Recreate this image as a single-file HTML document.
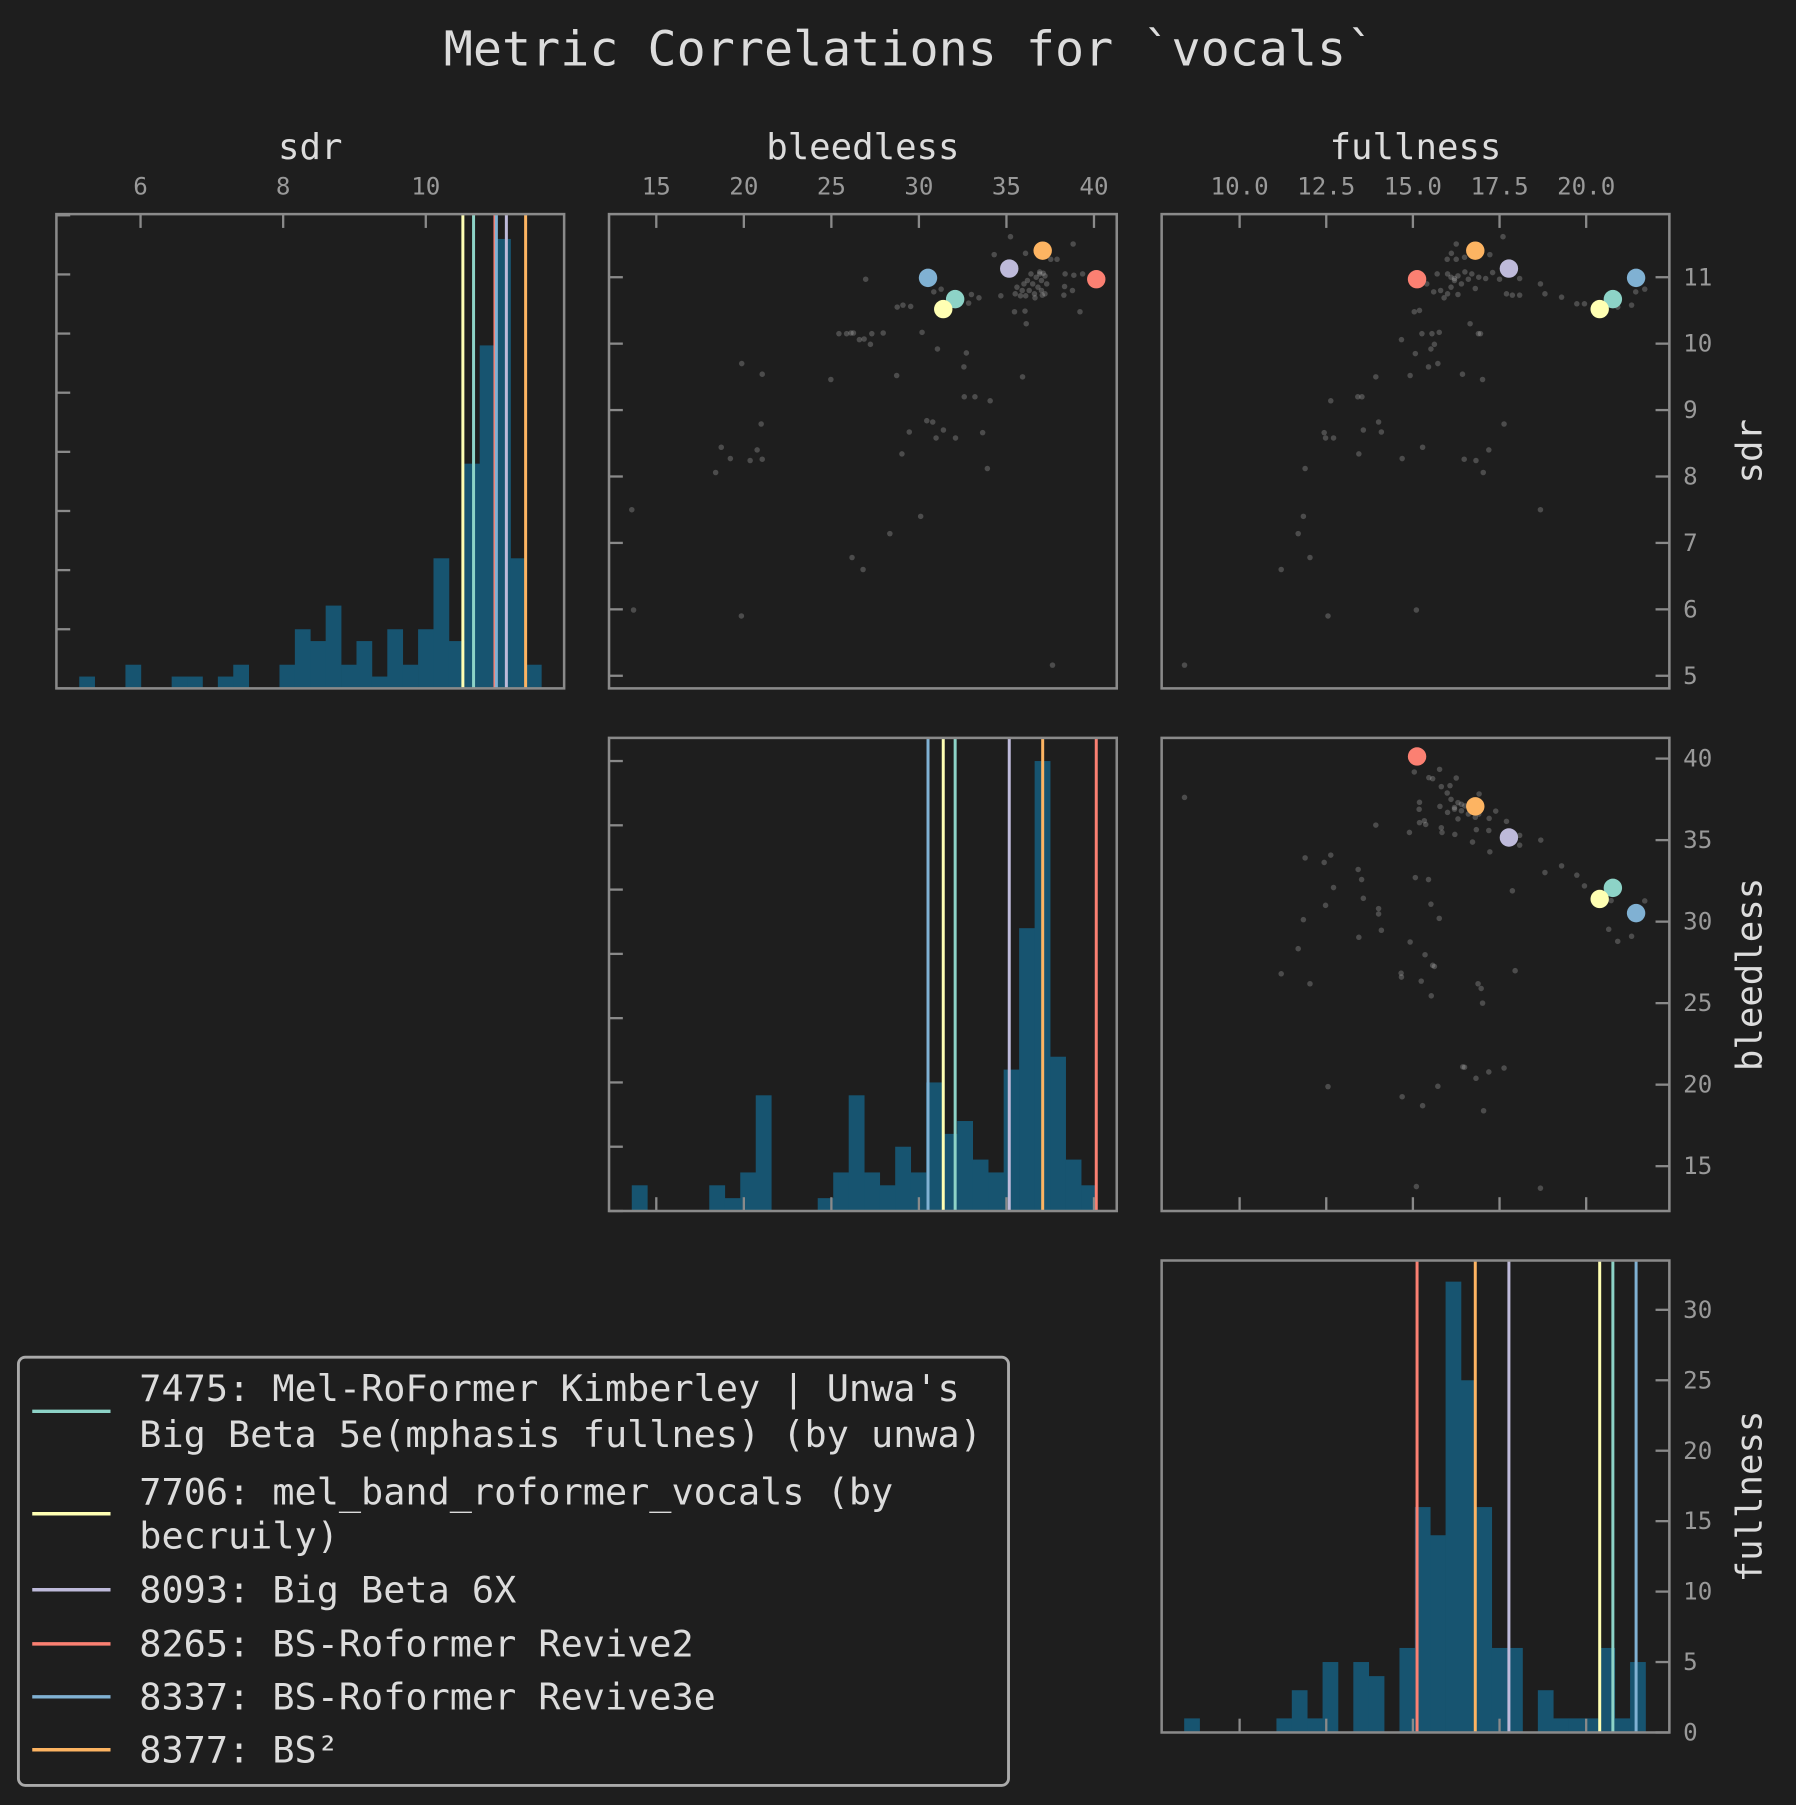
<!DOCTYPE html>
<html><head><meta charset="utf-8"><style>
html,body{margin:0;padding:0;background:#1e1e1e;}
svg{display:block;font-family:"DejaVu Sans Mono","Liberation Mono",monospace;}
</style></head><body>
<svg id="fig" width="1796" height="1805" viewBox="0 0 1560 1568" preserveAspectRatio="none" xmlns="http://www.w3.org/2000/svg">
<rect x="0" y="0" width="1560" height="1568" fill="#1e1e1e"/>
<text x="790" y="57" font-size="42" fill="#dcdcdc" text-anchor="middle">Metric Correlations for `vocals`</text>
<g id="plots"></g>
<g>
<rect x="16" y="1179" width="860" height="372" rx="6" fill="#1e1e1e" stroke="#aaaaaa" stroke-width="2.5"/>
<g font-size="32" fill="#dcdcdc">
<line x1="28" x2="96" y1="1226" y2="1226" stroke="#8dd3c7" stroke-width="3"/>
<text x="121" y="1217">7475: Mel-RoFormer Kimberley | Unwa's</text>
<text x="121" y="1257">Big Beta 5e(mphasis fullnes) (by unwa)</text>
<line x1="28" x2="96" y1="1315" y2="1315" stroke="#ffffb3" stroke-width="3"/>
<text x="121" y="1307">7706: mel_band_roformer_vocals (by</text>
<text x="121" y="1345">becruily)</text>
<line x1="28" x2="96" y1="1381" y2="1381" stroke="#bebada" stroke-width="3"/>
<text x="121" y="1392">8093: Big Beta 6X</text>
<line x1="28" x2="96" y1="1428" y2="1428" stroke="#fb8072" stroke-width="3"/>
<text x="121" y="1439">8265: BS-Roformer Revive2</text>
<line x1="28" x2="96" y1="1474" y2="1474" stroke="#80b1d3" stroke-width="3"/>
<text x="121" y="1485">8337: BS-Roformer Revive3e</text>
<line x1="28" x2="96" y1="1520" y2="1520" stroke="#fdb462" stroke-width="3"/>
<text x="121" y="1531">8377: BS²</text>
</g></g>
</svg>
<script>
// ---- data ----
const modelIds = ["7475","7706","8093","8265","8337","8377"];
const modelColors = ["#8dd3c7","#ffffb3","#bebada","#fb8072","#80b1d3","#fdb462"];
const modelSdr = [10.67,10.52,11.13,10.97,10.99,11.40];
const modelBleed = [32.07,31.39,35.16,40.13,30.52,37.07];
const modelFull = [20.77,20.39,17.77,15.12,21.44,16.80];

const sdrBinStart = 5.14, sdrBinWidth = 0.216;
const sdrCounts = [1,0,0,2,0,0,1,1,0,1,2,0,0,2,5,4,7,2,4,1,5,2,5,11,4,19,29,38,11,2];
const bleedBinStart = 13.6, bleedBinWidth = 0.885;
const bleedCounts = [2,0,0,0,0,2,1,3,9,0,0,0,1,3,9,3,2,5,3,10,6,7,4,3,11,22,35,12,4,2];
const fullBinStart = 8.40, fullBinWidth = 0.4437;
const fullCounts = [1,0,0,0,0,0,1,3,1,5,0,5,4,0,6,16,14,32,25,16,6,6,0,3,1,1,1,6,1,5];

const sdrTicks = [6,8,10];
const bleedTicks = [15,20,25,30,35,40];
const fullTicks = [10,12.5,15,17.5,20];
const fullTickLabels = ["10.0","12.5","15.0","17.5","20.0"];
const sdrYTicks = [5,6,7,8,9,10,11];
const bleedYTicks = [15,20,25,30,35,40];
const countTicks5 = [0,5,10,15,20,25,30,35,40];
const fullCountTicks = [0,5,10,15,20,25,30];

// [bleedless, sdr]
const bleedSdrPoints = [[35.23,11.61],[38.81,11.5],[34.3,11.34],[36.09,11.36],[37.89,11.27],[37.53,11.27],
[36.4,11.05],[36.7,11.0],[36.9,11.05],[37.0,10.95],[37.2,11.02],[36.5,10.9],[36.2,10.95],[36.8,10.85],[37.3,10.9],[36.0,10.9],[35.9,10.8],[36.3,10.8],[36.6,10.75],[35.8,10.72],[37.2,10.75],[37.0,10.8],[35.6,10.85],[35.5,10.75],[36.1,10.72],[36.9,11.08],[37.1,11.06],
[38.35,11.05],[38.85,11.03],[39.35,11.05],[38.32,10.86],[38.77,10.8],[38.28,10.73],[39.2,10.48],[37.05,10.73],[36.63,10.69],[35.46,10.48],[36.06,10.49],[36.13,10.3],[34.68,10.72],
[26.96,10.97],[30.85,10.78],[31.27,10.82],[33.0,10.74],[33.43,10.69],[32.84,10.61],[28.76,10.55],[29.09,10.58],[29.53,10.56],
[25.43,10.15],[25.87,10.15],[26.12,10.16],[26.26,10.16],[26.6,10.06],[26.87,10.07],[27.31,10.15],[27.23,9.99],[27.96,10.16],[30.18,10.17],[31.06,9.92],[32.71,9.86],[32.57,9.65],
[19.88,9.7],[21.05,9.54],[24.97,9.46],[28.73,9.52],[35.92,9.5],[32.59,9.2],[33.2,9.2],[34.07,9.14],[20.99,8.79],[30.45,8.84],[30.79,8.82],[31.4,8.7],[29.45,8.67],[30.98,8.58],[32.09,8.58],[33.64,8.66],[29.03,8.34],
[18.71,8.44],[19.23,8.27],[20.76,8.4],[20.36,8.24],[21.05,8.26],[18.39,8.06],[33.91,8.12],[13.6,7.5],[30.1,7.4],[28.34,7.14],[26.18,6.78],[26.81,6.6],[13.7,5.99],[19.86,5.9],[37.63,5.16]];

// [fullness, sdr]
const fullSdrPoints = [[17.6,11.61],[16.25,11.5],[16.11,11.36],[15.99,11.27],[16.25,11.27],[16.49,11.3],[17.22,11.34],
[15.4,10.9],[15.7,11.05],[16.0,11.05],[16.2,10.98],[16.5,11.08],[16.7,11.05],[16.9,11.0],[17.1,10.98],[17.3,11.07],[17.5,10.97],[16.1,10.85],[16.4,10.9],[15.8,10.8],[15.6,10.78],[16.0,10.75],[16.3,10.74],[16.8,10.83],[15.9,10.69],[16.2,10.95],[16.6,10.97],[16.1,11.0],[16.3,11.02],
[18.68,10.9],[18.81,10.75],[19.29,10.7],[19.73,10.6],[19.95,10.6],[17.7,10.75],[17.87,10.73],[18.08,10.73],[18.08,10.98],[20.91,10.55],[21.31,10.58],[21.43,10.78],[21.69,10.82],
[15.04,10.48],[15.19,10.5],[16.65,10.3],[14.67,10.06],[15.26,10.15],[15.55,10.15],[15.76,10.17],[16.89,10.15],[16.95,10.15],[15.07,9.85],[15.52,9.92],[15.62,9.99],[15.45,9.65],[15.72,9.7],
[13.93,9.5],[14.92,9.52],[16.43,9.54],[17.01,9.46],[12.63,9.14],[13.41,9.2],[13.53,9.2],[17.63,8.79],[14.01,8.82],[13.57,8.7],[14.09,8.67],[12.44,8.66],[12.48,8.58],[12.71,8.58],[15.28,8.44],[17.19,8.4],[13.44,8.34],[14.69,8.27],[16.48,8.26],[16.82,8.24],[17.03,8.06],[11.89,8.12],
[18.68,7.5],[11.84,7.4],[11.69,7.14],[12.03,6.78],[11.2,6.6],[15.1,5.99],[12.55,5.9],[8.41,5.16]];

// [fullness, bleedless]
const fullBleedPoints = [[15.04,39.18],[15.77,39.34],[15.46,38.83],[15.57,38.77],[16.25,38.81],[15.82,38.28],[16.07,38.34],[15.99,37.89],[16.91,37.83],[15.19,37.32],[15.18,36.89],[15.78,37.07],
[16.1,37.5],[16.3,37.3],[16.2,37.0],[16.4,36.8],[16.6,36.6],[16.0,36.7],[16.5,37.1],[16.8,36.4],[16.3,36.3],[16.9,36.6],[16.2,36.9],[16.4,37.2],
[17.39,36.78],[17.2,36.33],[17.7,36.15],[13.93,35.92],[15.19,36.07],[15.33,36.19],[15.37,35.96],[14.9,35.47],[15.82,35.76],[15.84,35.47],[16.21,35.35],[16.83,35.64],[17.19,35.59],[16.72,34.88],[18.08,35.29],[18.08,34.69],[18.69,35.0],[17.22,34.28],
[11.89,33.91],[12.63,34.08],[12.44,33.63],[13.42,33.2],[13.52,32.58],[15.07,32.7],[15.45,32.58],[18.81,33.01],[19.29,33.42],[19.73,32.85],[19.95,32.19],[17.87,31.89],[12.71,32.09],[13.57,31.43],[12.48,31.0],[15.52,31.07],[14.01,30.8],[14.01,30.47],[15.76,30.2],[11.84,30.12],[14.09,29.47],[13.44,29.04],
[20.72,31.29],[21.69,31.27],[20.65,29.53],[20.91,28.79],[21.31,29.1],[14.92,28.75],[11.69,28.34],[15.35,27.97],[15.57,27.32],[15.62,27.25],[17.95,26.99],[11.2,26.8],[14.66,26.84],[14.67,26.6],[15.24,26.35],[12.03,26.19],[16.88,26.19],[16.97,25.9],[15.53,25.45],[17.01,25.0],
[16.44,21.09],[16.49,21.07],[17.63,21.02],[17.19,20.78],[16.82,20.39],[15.72,19.9],[12.55,19.88],[14.69,19.26],[15.28,18.71],[17.04,18.4],[15.1,13.75],[18.68,13.65],[8.41,37.62]];

// ---- layout ----
const NS = "http://www.w3.org/2000/svg";
const root = document.getElementById("plots");
const colX = [[49,490],[529,970],[1009,1450]];
const rowY = [[186,598],[641,1052],[1095,1505]];
const xDom = {sdr:[4.82,11.94], bleed:[12.3,41.3], full:[7.75,22.4]};
const yDom = {sdr:[4.81,11.95], bleed:[12.25,41.27]};
const countMax = {sdr:40.1, bleed:36.8, full:33.5};
function lin(d0,d1,r0,r1){ return v => r0 + (v-d0)/(d1-d0)*(r1-r0); }
function mk(tag, attrs, parent){ const e=document.createElementNS(NS,tag); for(const k in attrs) e.setAttribute(k,attrs[k]); (parent||root).appendChild(e); return e; }
const metrics = ["sdr","bleed","full"];
const xs = metrics.map((m,i)=>lin(xDom[m][0],xDom[m][1],colX[i][0],colX[i][1]));
const ys = [lin(yDom.sdr[0],yDom.sdr[1],rowY[0][1],rowY[0][0]), lin(yDom.bleed[0],yDom.bleed[1],rowY[1][1],rowY[1][0])];
const modelVals = {sdr:modelSdr, bleed:modelBleed, full:modelFull};
const TK = 12, TC = "#8a8a8a";

function frame(c,r,name){
  const f = mk("rect",{x:colX[c][0],y:rowY[r][0],width:colX[c][1]-colX[c][0],height:rowY[r][1]-rowY[r][0],fill:"none",stroke:TC,"stroke-width":2.2});
  
  
}
function xTicks(c,r,ticks,labels,side,scale){
  ticks.forEach((t,i)=>{
    const x = scale(t);
    const yb = side==="top"?rowY[r][0]:rowY[r][1];
    const l = mk("line",{x1:x,x2:x,y1:yb,y2:side==="top"?yb+TK:yb-TK,stroke:TC,"stroke-width":2});
    
    
    if(labels){
      const tx = mk("text",{x:x,y:rowY[r][0]-17,"font-size":21,fill:"#999","text-anchor":"middle"});
      tx.textContent = labels[i];
      
      
    }
  });
}
function yTicks(c,r,ticks,labels,side,scale){
  ticks.forEach((t,i)=>{
    const y = scale(t);
    const xb = side==="left"?colX[c][0]:colX[c][1];
    const l = mk("line",{x1:xb,x2:side==="left"?xb+TK:xb-TK,y1:y,y2:y,stroke:TC,"stroke-width":2});
    
    
    if(labels){
      const tx = mk("text",{x:colX[c][1]+12,y:y+7,"font-size":21,fill:"#999"});
      tx.textContent = labels[i];
      
      
    }
  });
}
function hist(i,start,width,counts){
  const m = metrics[i];
  const cy = lin(0,countMax[m],rowY[i][1],rowY[i][0]);
  counts.forEach((n,k)=>{
    if(!n) return;
    const x0 = xs[i](start+k*width), x1 = xs[i](start+(k+1)*width);
    const b = mk("rect",{x:x0,y:cy(n),width:x1-x0+0.3,height:cy(0)-cy(n),fill:"#175470"});
    
    
  });
  modelVals[m].forEach((v,j)=>{
    const l = mk("line",{x1:xs[i](v),x2:xs[i](v),y1:rowY[i][0],y2:rowY[i][1],stroke:modelColors[j],"stroke-width":2.6});
    
    
  });
  return cy;
}
function scatter(c,r,pts,xv,yv){
  pts.forEach(p=>{
    const d = mk("circle",{cx:xs[c](p[0]),cy:ys[r](p[1]),r:2.4,fill:"#bbbbbb","fill-opacity":0.3});
    
    
  });
  xv.forEach((v,j)=>{
    const d = mk("circle",{cx:xs[c](v),cy:ys[r](yv[j]),r:8,fill:modelColors[j]});
    
    
  });
}

// diagonal histograms
const cs0 = hist(0,sdrBinStart,sdrBinWidth,sdrCounts);
const cs1 = hist(1,bleedBinStart,bleedBinWidth,bleedCounts);
const cs2 = hist(2,fullBinStart,fullBinWidth,fullCounts);
// scatters
scatter(1,0,bleedSdrPoints,modelBleed,modelSdr);
scatter(2,0,fullSdrPoints,modelFull,modelSdr);
scatter(2,1,fullBleedPoints,modelFull,modelBleed);

// frames and ticks
frame(0,0,"sdr-hist"); frame(1,0,"bleedless-sdr"); frame(2,0,"fullness-sdr");
frame(1,1,"bleedless-hist"); frame(2,1,"fullness-bleedless"); frame(2,2,"fullness-hist");
xTicks(0,0,sdrTicks,sdrTicks.map(String),"top",xs[0]);
yTicks(0,0,countTicks5,null,"left",cs0);
xTicks(1,0,bleedTicks,bleedTicks.map(String),"top",xs[1]);
yTicks(1,0,sdrYTicks,null,"left",ys[0]);
xTicks(2,0,fullTicks,fullTickLabels,"top",xs[2]);
yTicks(2,0,sdrYTicks,sdrYTicks.map(String),"right",ys[0]);
yTicks(1,1,countTicks5.slice(0,8),null,"left",cs1);
xTicks(1,1,bleedTicks,null,"bottom",xs[1]);
yTicks(2,1,bleedYTicks,bleedYTicks.map(String),"right",ys[1]);
xTicks(2,1,fullTicks,null,"bottom",xs[2]);
yTicks(2,2,fullCountTicks,fullCountTicks.map(String),"right",cs2);
xTicks(2,2,fullTicks,null,"bottom",xs[2]);

// axis titles
const colTitles = ["sdr","bleedless","fullness"];
colTitles.forEach((t,i)=>{
  const e = mk("text",{x:(colX[i][0]+colX[i][1])/2,y:138,"font-size":31,fill:"#dcdcdc","text-anchor":"middle"});
  e.textContent = t;
  
  
  const cy = (rowY[i][0]+rowY[i][1])/2;
  const r = mk("text",{x:1530,y:cy,"font-size":31,fill:"#dcdcdc","text-anchor":"middle",transform:"rotate(-90 1530 "+cy+")"});
  r.textContent = t;
  
  
});
</script>
</body></html>
